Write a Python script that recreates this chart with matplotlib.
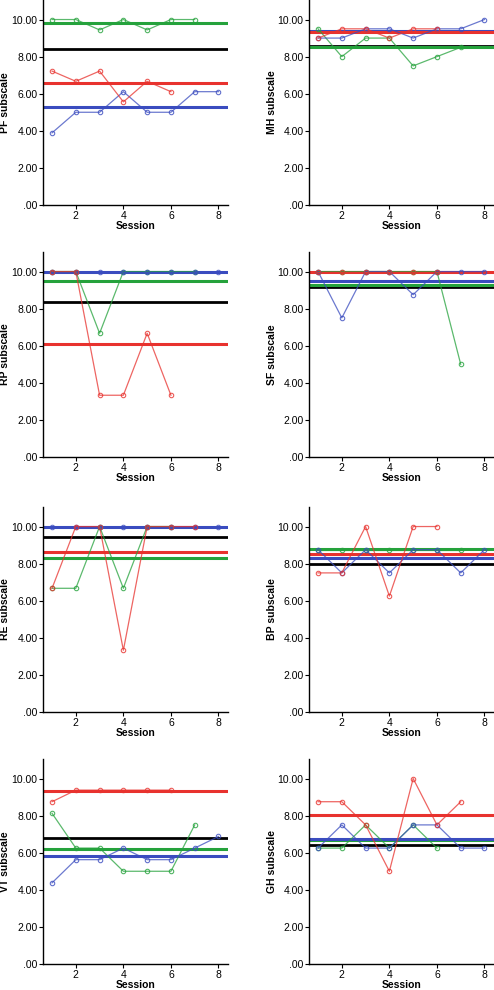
import numpy as np
import matplotlib
matplotlib.use('Agg')
import matplotlib.pyplot as plt
from matplotlib.ticker import FuncFormatter

plt.rcParams['font.family'] = ['Liberation Sans', 'DejaVu Sans']

# subscale names, in reading order (left->right, top->bottom)
scales = ['PF', 'MH', 'RP', 'SF', 'RE', 'BP', 'VT', 'GH']

# session scores per group
red = {
    'PF': [7.22, 6.67, 7.22, 5.56, 6.67, 6.11],
    'MH': [9.0, 9.5, 9.5, 9.0, 9.5, 9.5],
    'RP': [10, 10, 3.33, 3.33, 6.67, 3.33],
    'SF': [10, 10, 10, 10, 10, 10],
    'RE': [6.67, 10, 10, 3.33, 10, 10, 10],
    'BP': [7.5, 7.5, 10, 6.25, 10, 10],
    'VT': [8.75, 9.375, 9.375, 9.375, 9.375, 9.375],
    'GH': [8.75, 8.75, 7.5, 5.0, 10, 7.5, 8.75],
}
green = {
    'PF': [10, 10, 9.44, 10, 9.44, 10, 10],
    'MH': [9.5, 8.0, 9.0, 9.0, 7.5, 8.0, 8.5],
    'RP': [10, 10, 6.67, 10, 10, 10, 10],
    'SF': [10, 10, 10, 10, 10, 10, 5.0],
    'RE': [6.67, 6.67, 10, 6.67, 10, 10],
    'BP': [8.75, 8.75, 8.75, 8.75, 8.75, 8.75, 8.75],
    'VT': [8.125, 6.25, 6.25, 5.0, 5.0, 5.0, 7.5],
    'GH': [6.25, 6.25, 7.5, 6.25, 7.5, 6.25],
}
blue = {
    'PF': [3.89, 5.0, 5.0, 6.11, 5.0, 5.0, 6.11, 6.11],
    'MH': [9.0, 9.0, 9.5, 9.5, 9.0, 9.5, 9.5, 10.0],
    'RP': [10, 10, 10, 10, 10, 10, 10, 10],
    'SF': [10, 7.5, 10, 10, 8.75, 10, 10, 10],
    'RE': [10, 10, 10, 10, 10, 10, 10, 10],
    'BP': [8.75, 7.5, 8.75, 7.5, 8.75, 8.75, 7.5, 8.75],
    'VT': [4.375, 5.625, 5.625, 6.25, 5.625, 5.625, 6.25, 6.875],
    'GH': [6.25, 7.5, 6.25, 6.25, 7.5, 7.5, 6.25, 6.25],
}
# mean / reference lines
red_mean = [6.59, 9.33, 6.11, 10.0, 8.6, 8.52, 9.31, 8.04]
green_mean = [9.81, 8.52, 9.5, 9.28, 8.3, 8.8, 6.2, 6.66]
blue_mean = [5.28, 9.375, 10.0, 9.5, 10.0, 8.3, 5.8, 6.73]
black_ref = [8.41, 8.58, 8.38, 9.18, 9.41, 8.0, 6.81, 6.43]

RED = '#e8322e'
GREEN = '#25a23c'
BLUE = '#3a4cbf'

fig = plt.figure(figsize=(4.94, 9.9), dpi=100)

col_x = [43 / 494, 309 / 494]
ax_w = 185 / 494
row_bottom = [205, 457, 712, 964]
ax_h = 205.5 / 990

fmt = FuncFormatter(lambda v, p: ('%.2f' % v).lstrip('0') if v < 1 else '%.2f' % v)

for i, s in enumerate(scales):
    r, c = divmod(i, 2)
    ax = fig.add_axes([col_x[c], 1 - row_bottom[r] / 990, ax_w, ax_h])

    # reference lines
    ax.axhline(black_ref[i], color='black', lw=2.0, zorder=1)
    ax.axhline(green_mean[i], color=GREEN, lw=2.2, zorder=1)
    ax.axhline(blue_mean[i], color=BLUE, lw=2.2, zorder=1)
    ax.axhline(red_mean[i], color=RED, lw=2.2, zorder=1)

    for data, col in [(green, GREEN), (blue, BLUE), (red, RED)]:
        y = data[s]
        x = np.arange(1, len(y) + 1)
        ax.plot(x, y, '-', color=col, lw=0.9, alpha=0.75, zorder=2)
        ax.plot(x, y, 'o', ms=3.2, mfc='none', mec=col, mew=0.8, alpha=0.8, zorder=3)

    ax.set_xlim(0.62, 8.4)
    ax.set_ylim(0, 11.08)
    ax.set_xticks([2, 4, 6, 8])
    ax.set_yticks([0, 2, 4, 6, 8, 10])
    ax.yaxis.set_major_formatter(fmt)
    ax.spines['top'].set_visible(False)
    ax.spines['right'].set_visible(False)
    ax.spines['left'].set_linewidth(1.0)
    ax.spines['bottom'].set_linewidth(1.0)
    ax.tick_params(labelsize=7.5, length=3, width=0.8, pad=1)
    ax.set_xlabel('Session', fontsize=7.5, fontweight='bold', labelpad=0.5)
    ax.set_ylabel(s + ' subscale', fontsize=7.5, fontweight='bold', labelpad=0)
    if c == 0:
        ax.yaxis.set_label_coords(-33 / 185, 0.5)

fig.savefig('out.png', dpi=100)
